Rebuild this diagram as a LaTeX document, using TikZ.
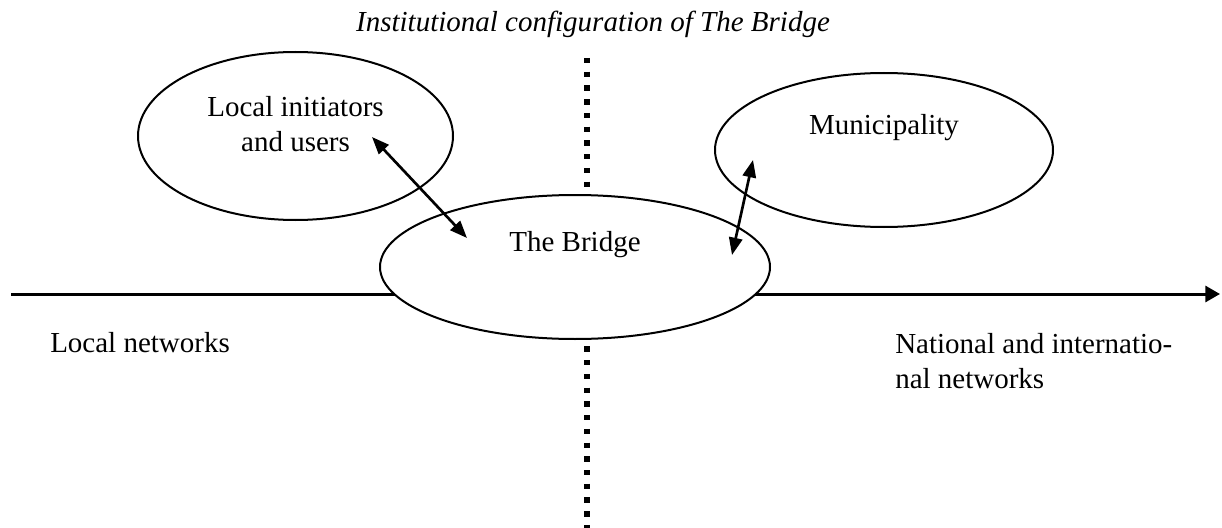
\documentclass[tikz,border=0pt]{standalone}
\usepackage{fontspec}
\setmainfont{Liberation Serif}
\usetikzlibrary{shapes.geometric, arrows.meta}

\begin{document}
\begin{tikzpicture}[x=0.75pt, y=-0.75pt, >={Triangle[length=13pt, width=10pt]},
        actor/.style={draw, ellipse, line width=1.5pt, fill=white, inner sep=0pt},
        lbl/.style={font=\fontsize{21.75}{26.25}\selectfont, inner sep=0pt}]
        \useasboundingbox (0, 0) rectangle (1222, 528);

        \def\axisy{294}
        \def\divx{587}

        \node[lbl, font=\fontsize{21.75}{26.25}\selectfont\itshape, anchor=base] (title) at (593, 32) {Institutional configuration of The Bridge};

        \coordinate (west) at (11, \axisy);
        \coordinate (east) at (1220, \axisy);
        \coordinate (top) at (\divx, 58);
        \coordinate (bottom) at (\divx, 528);
        \draw[line width=2.25pt, -{Triangle[length=11pt, width=12pt]}] (west) -- (east);
        \draw[line width=4pt, dash pattern=on 4pt off 6.3pt] (top) -- (bottom);

        \node[actor, minimum width=236.25pt, minimum height=126pt] (users) at (295.5, 136) {};
        \node[actor, minimum width=253.5pt, minimum height=115.5pt] (municipality) at (884, 150) {};
        \node[actor, minimum width=292.5pt, minimum height=108pt] (bridge) at (575, 267) {};

        \node[lbl, align=center] (userstext) at (295.5, 124) {Local initiators\\and users};
        \node[lbl, anchor=base] (municipalitytext) at (884, 135) {Municipality};
        \node[lbl, anchor=base] (bridgetext) at (575, 251) {The Bridge};

        \node[lbl, anchor=base west] (local) at (50, 352) {Local networks};
        \node[lbl, align=left, anchor=north west] (national) at (895, 333) {National and internatio-\\nal networks};

        \coordinate (u1) at (372, 137);
        \coordinate (b1) at (467, 238);
        \coordinate (m1) at (753, 160);
        \coordinate (b2) at (732, 255);
        \draw[<->, line width=2pt] (u1) -- (b1);
        \draw[<->, line width=2pt] (m1) -- (b2);
    \end{tikzpicture}
\end{document}
